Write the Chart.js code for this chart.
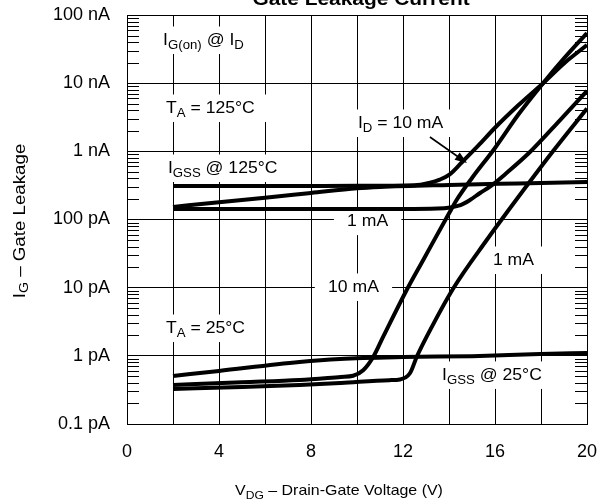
<!DOCTYPE html>
<html>
<head>
<meta charset="utf-8">
<script src="https://cdn.jsdelivr.net/npm/chart.js@4.4.1/dist/chart.umd.min.js"></script>
<style>
html,body{margin:0;padding:0;background:#fff}
</style>
</head>
<body>
<canvas id="leak" width="603" height="504"></canvas>
<script>

// =========================
// DATA (V_DG in volts, I_G in pA)
// =========================

let igss125V=[2,4,6,8,10,11,14,17,20]
let igss125=[153,179,209,245,287,300,321,338,355]

let on10m125V=[2,6,10,12.5,13.13,13.6,14,14.54,15.26,15.99,17,18.09,19,20]
let on10m125=[310,310,312,318,345,385,450,680,1200,2200,4700,10000,19500,36300]

let on1m125V=[2,8,12,13.5,14.5,14.91,15.35,15.78,16.5,17.52,18.83,20]
let on1m125=[143,143,143,145,163,193,245,303,480,977,2880,7680]

let on10m25V=[2,5,7.5,9.3,9.83,10.28,10.71,11.14,12.16,12.88,14.04,14.33,15,16,17,18.09,19,20]
let on10m25=[0.373,0.41,0.443,0.49,0.51,0.62,0.97,1.91,9.25,25.5,130,193,406,1120,3410,10000,23100,54400]

let on1m25V=[2,5,7.5,9.3,11.4,11.87,12.3,12.6,13.03,14.19,15.64,16.29,18.52,20]
let on1m25=[0.327,0.35,0.373,0.40,0.44,0.45,0.555,0.97,1.91,9.8,50,100,1000,4240]

let igss25V=[2,4,7.5,9.26,12,15,17.96,20]
let igss25=[0.506,0.601,0.813,0.90,0.96,0.99,1.064,1.10]

let yDecades=[0.1,1,10,100,1000,10000,100000]
let yLabels=["0.1 pA","1 pA","10 pA","100 pA","1 nA","10 nA","100 nA"]
let xLabelsAt=[0,4,8,12,16,20]


// =========================
// HELPERS
// =========================

let FONT="'Liberation Sans', Arial, Helvetica, sans-serif"
let SX=1.1

function curve(xs,ys){
return {
data:xs.map((x,i)=>({x:x,y:ys[i]})),
borderColor:"#000",
borderWidth:4,
pointRadius:0,
fill:false,
cubicInterpolationMode:"monotone",
borderCapStyle:"butt",
borderJoinStyle:"round"
}
}

// text with subscripts, a little wider like the datasheet font
function rich(ctx,parts,x,y,size,o){
o=o||{}
let sub=Math.round(size*0.75)
ctx.save()
ctx.translate(x,y)
if(o.rot) ctx.rotate(o.rot)
ctx.scale(SX,1)
let w=0
parts.forEach(p=>{ctx.font=(o.bold?"bold ":"")+(p[1]?sub:size)+"px "+FONT;w+=ctx.measureText(p[0]).width})
let cx=o.center?-w/2:0
if(o.box){
ctx.fillStyle="#fff"
ctx.fillRect(cx-o.box[0],-size*0.72-o.box[1],w+2*o.box[0],size*0.72+o.box[1]+o.box[2])
}
ctx.fillStyle="#000"
ctx.textAlign="left"
ctx.textBaseline="alphabetic"
parts.forEach(p=>{
ctx.font=(o.bold?"bold ":"")+(p[1]?sub:size)+"px "+FONT
ctx.fillText(p[0],cx,p[1]?(o.subDy||4):0)
cx+=ctx.measureText(p[0]).width
})
ctx.restore()
}

// notes placed in data units (left of text, baseline)
let notes=[
{x:1.57,y:36300,parts:[["I"],["G(on)",1],[" @ I"],["D",1]]},
{x:1.70,y:3650,parts:[["T"],["A",1],[" = 125°C"]]},
{x:1.78,y:481,parts:[["I"],["GSS",1],[" @ 125°C"]]},
{x:10.04,y:2200,parts:[["I"],["D",1],[" = 10 mA"]]},
{x:9.57,y:80,parts:[["1 mA"]]},
{x:8.74,y:8.65,parts:[["10 mA"]]},
{x:15.91,y:21.5,parts:[["1 mA"]]},
{x:1.70,y:2.16,parts:[["T"],["A",1],[" = 25°C"]]},
{x:13.7,y:0.443,parts:[["I"],["GSS",1],[" @ 25°C"]]}
]

let arrowFrom={x:13.17,y:1622}
let arrowTo={x:14.78,y:675}

let decor={
id:"decor",
beforeDatasetsDraw(chart){
let ctx=chart.ctx
let xs=chart.scales.x, ys=chart.scales.y
let a=chart.chartArea

// minor log ticks inside, both sides
ctx.save()
ctx.strokeStyle="#000"
ctx.lineWidth=1
ctx.beginPath()
yDecades.slice(0,-1).forEach(d=>{
for(let m=2;m<10;m++){
let py=Math.round(ys.getPixelForValue(d*m))+0.5
ctx.moveTo(a.left,py);ctx.lineTo(a.left+12,py)
ctx.moveTo(a.right-12,py);ctx.lineTo(a.right,py)
}
})
ctx.stroke()
ctx.restore()

notes.forEach(n=>{
rich(ctx,n.parts,xs.getPixelForValue(n.x),ys.getPixelForValue(n.y),16,{box:[12,7,9]})
})
},
afterDraw(chart){
let ctx=chart.ctx
let xs=chart.scales.x, ys=chart.scales.y

// arrow to the 10 mA curve
let x1=xs.getPixelForValue(arrowFrom.x), y1=ys.getPixelForValue(arrowFrom.y)
let x2=xs.getPixelForValue(arrowTo.x), y2=ys.getPixelForValue(arrowTo.y)
let ang=Math.atan2(y2-y1,x2-x1)
ctx.save()
ctx.strokeStyle="#000"
ctx.fillStyle="#000"
ctx.lineWidth=1.6
ctx.beginPath()
ctx.moveTo(x1,y1)
ctx.lineTo(x2-10*Math.cos(ang),y2-10*Math.sin(ang))
ctx.stroke()
ctx.beginPath()
ctx.moveTo(x2,y2)
ctx.lineTo(x2-12*Math.cos(ang)+4.5*Math.sin(ang),y2-12*Math.sin(ang)-4.5*Math.cos(ang))
ctx.lineTo(x2-12*Math.cos(ang)-4.5*Math.sin(ang),y2-12*Math.sin(ang)+4.5*Math.cos(ang))
ctx.closePath()
ctx.fill()
ctx.restore()

// title (cut off at the top like the datasheet crop)
rich(ctx,[["Gate Leakage Current"]],361,5,19,{center:true,bold:true})

// axis titles
rich(ctx,[["V"],["DG",1],[" – Drain-Gate Voltage (V)"]],339,495,14.5,{center:true})
rich(ctx,[["I"],["G",1],[" – Gate Leakage"]],25,221,17,{center:true,rot:-Math.PI/2,subDy:3})
}
}


// =========================
// CHART
// =========================

Chart.defaults.font.family=FONT
Chart.defaults.color="#000"

new Chart(document.getElementById("leak"),{

type:"line",

data:{
datasets:[
curve(igss125V,igss125),
curve(on10m125V,on10m125),
curve(on1m125V,on1m125),
curve(on10m25V,on10m25),
curve(on1m25V,on1m25),
curve(igss25V,igss25)
]
},

options:{
responsive:false,
animation:false,
devicePixelRatio:1,
layout:{padding:{top:15,right:16,left:0,bottom:0}},
plugins:{legend:{display:false},tooltip:{enabled:false}},
scales:{
x:{
type:"linear",
min:0,
max:20,
afterFit(s){s.height=80;s.paddingLeft=0;s.paddingRight=0},
ticks:{
stepSize:2,
autoSkip:false,
maxRotation:0,
padding:17,
font:{size:18},
callback:v=>xLabelsAt.includes(v)?String(v):""
},
grid:{color:"#000",lineWidth:1,drawTicks:false},
border:{color:"#000",width:1}
},
y:{
type:"logarithmic",
min:0.1,
max:100000,
afterFit(s){s.width=127;s.paddingTop=0;s.paddingBottom=0},
afterBuildTicks(s){s.ticks=yDecades.map(v=>({value:v,major:true}))},
ticks:{
autoSkip:false,
padding:17,
font:{size:18},
callback:v=>{let i=yDecades.indexOf(v);return i<0?"":yLabels[i]}
},
grid:{color:"#000",lineWidth:1,drawTicks:false},
border:{color:"#000",width:1}
}
}
},

plugins:[decor]

})

</script>
</body>
</html>
